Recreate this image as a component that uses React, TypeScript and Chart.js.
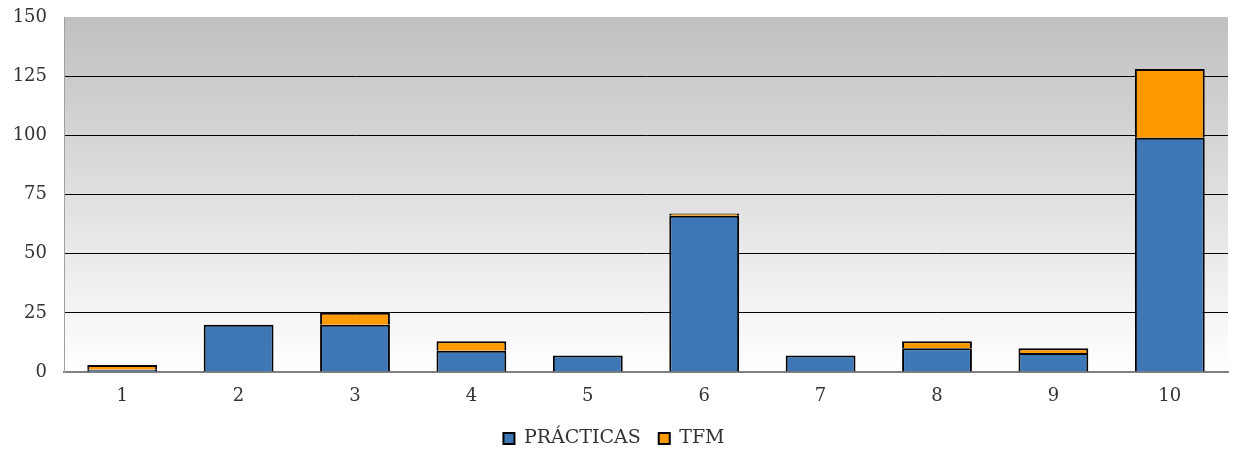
import React, { useEffect, useRef } from "react";
import { Chart, registerables } from "chart.js";

Chart.register(...registerables);

const categories = ["1", "2", "3", "4", "5", "6", "7", "8", "9", "10"];
const practicas = [1, 20, 20, 9, 7, 66, 7, 10, 8, 99];
const tfm = [2, 0, 5, 4, 0, 1, 0, 3, 2, 29];
const seriesNames = ["PRÁCTICAS", "TFM"];

const FONT = "'DejaVu Serif', serif";

const bgPlugin = {
  id: "plotBg",
  beforeDraw(chart: any) {
    const { ctx, chartArea } = chart;
    if (!chartArea) return;
    const g = ctx.createLinearGradient(0, chartArea.top, 0, chartArea.bottom);
    g.addColorStop(0, "#c0c0c0");
    g.addColorStop(1, "#ffffff");
    ctx.save();
    ctx.fillStyle = g;
    ctx.fillRect(chartArea.left, chartArea.top, chartArea.right - chartArea.left, chartArea.bottom - chartArea.top);
    ctx.restore();
  },
};

export default function App() {
  const ref = useRef<HTMLCanvasElement>(null);
  useEffect(() => {
    document.body.style.margin = "0";
    const chart = new Chart(ref.current!, {
      type: "bar",
      data: {
        labels: categories,
        datasets: [
          {
            label: seriesNames[0],
            data: practicas,
            backgroundColor: "#3D77B6",
            borderColor: "#000000",
            borderWidth: 2,
            barPercentage: 0.6,
            categoryPercentage: 1,
          },
          {
            label: seriesNames[1],
            data: tfm,
            backgroundColor: "#FF9900",
            borderColor: "#000000",
            borderWidth: 2,
            barPercentage: 0.6,
            categoryPercentage: 1,
          },
        ],
      },
      options: {
        animation: false,
        responsive: false,
        maintainAspectRatio: false,
        layout: { padding: { left: 0, right: 7, top: 17, bottom: -8 } },
        plugins: {
          tooltip: { enabled: false },
          legend: {
            position: "bottom",
            labels: {
              boxWidth: 11,
              boxHeight: 11,
              color: "#333333",
              font: { family: FONT, size: 19 },
              padding: 18,
            },
          },
        },
        scales: {
          x: {
            stacked: true,
            grid: { display: false, drawTicks: false },
            border: { display: true, color: "#808080", width: 2 },
            ticks: { color: "#333333", font: { family: FONT, size: 18 }, padding: 14 },
            afterFit: (s: any) => { s.height = 39; },
          },
          y: {
            stacked: true,
            min: 0,
            max: 150,
            grid: {
              drawTicks: false,
              color: (c: any) => (c.tick && (c.tick.value === 0 || c.tick.value === 150) ? "rgba(0,0,0,0)" : "#000000"),
              lineWidth: 1,
            },
            border: { display: true, color: "#a0a0a0", width: 1 },
            ticks: { stepSize: 25, color: "#333333", font: { family: FONT, size: 18 }, padding: 17 },
            afterFit: (s: any) => { s.width = 64; s.paddingTop = 0; s.paddingBottom = 0; },
          },
        },
      },
      plugins: [bgPlugin],
    });
    return () => chart.destroy();
  }, []);
  return <canvas ref={ref} width={1235} height={450} style={{ display: "block" }} />;
}
